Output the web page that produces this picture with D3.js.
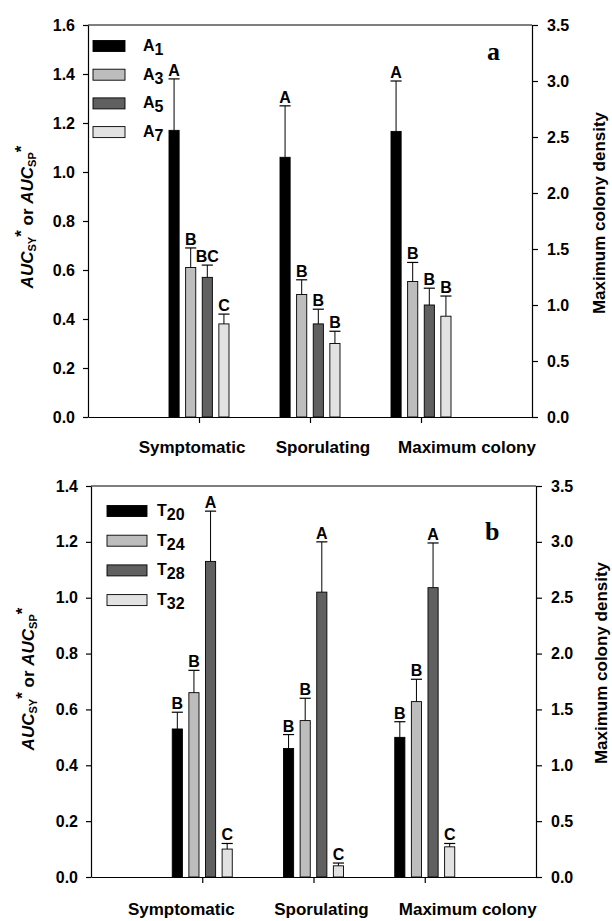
<!DOCTYPE html>
<html>
<head>
<meta charset="utf-8">
<script src="https://cdn.jsdelivr.net/npm/d3@7"></script>
<style>
  body { margin: 0; background: #fff; }
  text { font-family: Arial, "Liberation Sans", sans-serif; font-weight: bold; }
</style>
</head>
<body>
<script>
// categories on the x axis (third one is read on the right axis)
var categories = ['Symptomatic', 'Sporulating', 'Maximum colony'];
var fills = ['#000000', '#bdbdbd', '#606060', '#e2e2e2'];

// panel a : A series
var subsA = ['1', '3', '5', '7'];
var meansA = [[1.17, 0.61, 0.57, 0.38], [1.06, 0.50, 0.38, 0.30], [2.55, 1.21, 1.00, 0.90]];
var errA = [[0.21, 0.08, 0.05, 0.04], [0.21, 0.06, 0.06, 0.05], [0.45, 0.17, 0.15, 0.18]];
var lettersA = [['A', 'B', 'BC', 'C'], ['A', 'B', 'B', 'B'], ['A', 'B', 'B', 'B']];

// panel b : T series
var subsT = ['20', '24', '28', '32'];
var meansT = [[0.53, 0.66, 1.13, 0.10], [0.46, 0.56, 1.02, 0.04], [1.25, 1.57, 2.59, 0.27]];
var errT = [[0.06, 0.08, 0.18, 0.02], [0.05, 0.08, 0.18, 0.01], [0.14, 0.20, 0.40, 0.03]];
var lettersT = [['B', 'B', 'A', 'C'], ['B', 'B', 'A', 'C'], ['B', 'B', 'A', 'C']];

var svg = d3.select('body').append('svg')
  .attr('width', 612)
  .attr('height', 921);

var drawPanel = function(p) {
  var g = svg.append('g');
  var x = d3.scaleLinear().domain([0, 4]).range([p.left, p.right]);
  var yL = d3.scaleLinear().domain([0, p.leftMax]).range([p.bottom, p.top]);
  var yR = d3.scaleLinear().domain([0, 3.5]).range([p.bottom, p.top]);
  var inner = d3.scaleBand().domain(d3.range(4)).range([-30, 30]).paddingInner(0.39);

  var rows = [];
  p.means.forEach(function(ms, i) {
    ms.forEach(function(m, j) {
      rows.push({i: i, j: j, m: m, e: p.err[i][j], lab: p.letters[i][j]});
    });
  });
  var yOf = function(d) { return d.i < 2 ? yL : yR; };
  var cx = function(d) { return x(d.i + 1) + inner(d.j) + inner.bandwidth() / 2; };

  // bars
  g.selectAll('.bar').data(rows).enter().append('rect')
    .attr('class', 'bar')
    .attr('x', function(d) { return x(d.i + 1) + inner(d.j); })
    .attr('y', function(d) { return yOf(d)(d.m); })
    .attr('width', inner.bandwidth())
    .attr('height', function(d) { return p.bottom - yOf(d)(d.m); })
    .attr('fill', function(d) { return fills[d.j]; })
    .attr('stroke', '#000')
    .attr('stroke-width', 0.9);

  // error bars (upper only)
  g.selectAll('.err').data(rows).enter().append('line')
    .attr('x1', cx).attr('x2', cx)
    .attr('y1', function(d) { return yOf(d)(d.m); })
    .attr('y2', function(d) { return yOf(d)(d.m + d.e); })
    .attr('stroke', '#000').attr('stroke-width', 1);
  g.selectAll('.cap').data(rows).enter().append('line')
    .attr('x1', function(d) { return cx(d) - inner.bandwidth() / 2 - 0.5; })
    .attr('x2', function(d) { return cx(d) + inner.bandwidth() / 2 + 0.5; })
    .attr('y1', function(d) { return yOf(d)(d.m + d.e); })
    .attr('y2', function(d) { return yOf(d)(d.m + d.e); })
    .attr('stroke', '#000').attr('stroke-width', 1.2);

  // letters
  g.selectAll('.lab').data(rows).enter().append('text')
    .attr('x', cx)
    .attr('y', function(d) { return yOf(d)(d.m + d.e) - 3; })
    .attr('text-anchor', 'middle')
    .style('font-size', '16px')
    .text(function(d) { return d.lab; });

  // axes
  var styleAxis = function(a, size) {
    a.selectAll('path, line').attr('stroke', '#000').attr('stroke-width', 1.2);
    a.selectAll('text').style('font-size', size).style('font-family', 'Arial, "Liberation Sans", sans-serif')
      .style('font-weight', 'bold').attr('fill', '#000');
  };
  var ax = g.append('g').attr('transform', 'translate(0,' + p.bottom + ')')
    .call(d3.axisBottom(x).tickValues([1, 2, 3]).tickFormat('')
      .tickSizeInner(6).tickSizeOuter(0));
  styleAxis(ax, '17px');
  g.selectAll('.cat').data(categories).enter().append('text')
    .attr('x', function(d, i) { return x(i + 1) + p.catDx[i]; })
    .attr('y', p.catY)
    .attr('text-anchor', 'middle')
    .style('font-size', '17px')
    .text(function(d) { return d; });

  var al = g.append('g').attr('transform', 'translate(' + p.left + ',0)')
    .call(d3.axisLeft(yL).ticks(p.leftMax / 0.2).tickFormat(d3.format('.1f'))
      .tickSizeInner(5).tickSizeOuter(0).tickPadding(8));
  styleAxis(al, '16px');
  var ar = g.append('g').attr('transform', 'translate(' + p.right + ',0)')
    .call(d3.axisRight(yR).ticks(7).tickFormat(d3.format('.1f'))
      .tickSizeInner(6).tickSizeOuter(0).tickPadding(9));
  styleAxis(ar, '16px');
  g.append('line')
    .attr('x1', p.left).attr('x2', p.right)
    .attr('y1', p.top).attr('y2', p.top)
    .attr('stroke', '#000').attr('stroke-width', 1.2);

  // legend
  var leg = g.selectAll('.leg').data(p.subs).enter().append('g')
    .attr('transform', function(d, k) { return 'translate(' + p.legX + ',' + (p.legY + k * p.legStep) + ')'; });
  leg.append('rect')
    .attr('x', 0).attr('y', -5.5)
    .attr('width', p.legW).attr('height', 11)
    .attr('fill', function(d, k) { return fills[k]; })
    .attr('stroke', '#000').attr('stroke-width', 0.9);
  var lt = leg.append('text')
    .attr('x', p.legW + p.legGap).attr('y', 5)
    .style('font-size', '16px');
  lt.append('tspan').text(p.base);
  lt.append('tspan').attr('dy', 4).text(function(d) { return d; });

  // panel letter
  g.append('text')
    .attr('x', p.tagX).attr('y', p.tagY)
    .style('font-family', '"Liberation Serif", "Times New Roman", serif')
    .style('font-size', '26px')
    .text(p.tag);

  // left title
  var tl = g.append('text')
    .attr('transform', 'translate(' + p.titleLX + ',' + p.titleLY + ') rotate(-90)')
    .attr('text-anchor', 'middle')
    .style('font-size', '17px');
  tl.append('tspan').style('font-style', 'italic').text('AUC');
  tl.append('tspan').style('font-size', '11px').attr('dy', 3).text('SY');
  tl.append('tspan').attr('dy', -9).text('*');
  tl.append('tspan').attr('dy', 6).text(' or ');
  tl.append('tspan').style('font-style', 'italic').text('AUC');
  tl.append('tspan').style('font-size', '11px').attr('dy', 3).text('SP');
  tl.append('tspan').attr('dy', -9).text('*');

  // right title
  g.append('text')
    .attr('transform', 'translate(' + p.titleRX + ',' + p.titleRY + ') rotate(-90)')
    .attr('text-anchor', 'middle')
    .style('font-size', '17px')
    .text('Maximum colony density');
};

drawPanel({
  left: 88, right: 532, top: 25, bottom: 417, leftMax: 1.6,
  means: meansA, err: errA, letters: lettersA,
  base: 'A', subs: subsA, legX: 93, legY: 46, legStep: 28.7, legW: 32, legGap: 18,
  catDx: [-7, 13, 46], catY: 453,
  tag: 'a', tagX: 487, tagY: 60,
  titleLX: 33, titleLY: 217, titleRX: 605, titleRY: 213
});

drawPanel({
  left: 91, right: 536, top: 486, bottom: 877, leftMax: 1.4,
  means: meansT, err: errT, letters: lettersT,
  base: 'T', subs: subsT, legX: 107, legY: 511, legStep: 29.7, legW: 40, legGap: 10,
  catDx: [-21, 8, 43], catY: 915,
  tag: 'b', tagX: 485, tagY: 540,
  titleLX: 34, titleLY: 679, titleRX: 607, titleRY: 663
});
</script>
</body>
</html>
